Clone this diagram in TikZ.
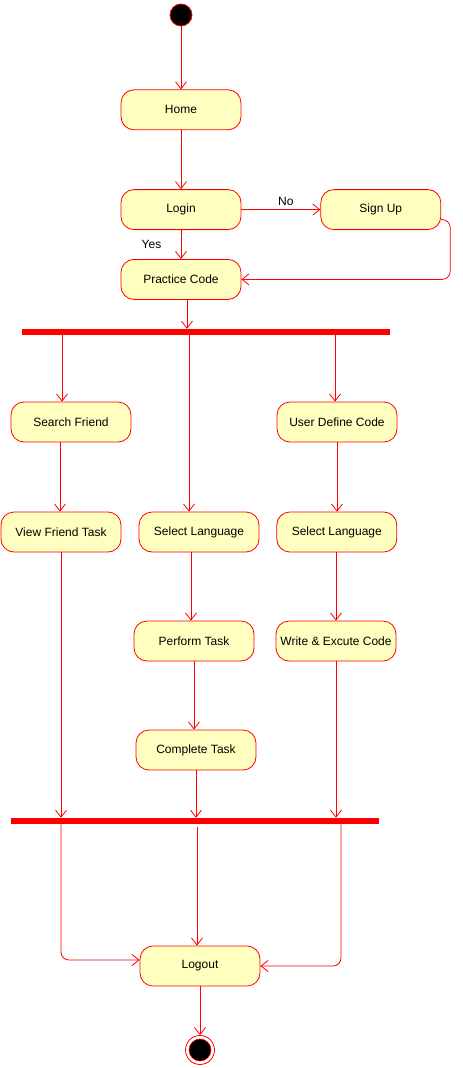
\documentclass[tikz,border=0pt]{standalone}
\usepackage{fontspec}
\setmainfont{Liberation Sans}
\usepackage{tikz}
\usetikzlibrary{shapes,arrows.meta,positioning}
\definecolor{actfill}{RGB}{255,255,192}
\tikzset{>={Straight Barb[length=7pt,width=11pt]}}
\tikzstyle{activity} = [draw=red, fill=actfill, rounded corners=13pt,
    minimum width=120pt, minimum height=40pt, line width=0.8pt]
\tikzstyle{bar} = [fill=red, inner sep=0pt, minimum height=6pt]
\tikzstyle{startdot} = [circle, draw=red, fill=black, inner sep=0pt,
    minimum size=22pt, line width=0.8pt]
\tikzstyle{enddot} = [circle, draw=red, fill=white, inner sep=0pt,
    minimum size=29pt, line width=0.8pt]
\tikzstyle{enddotin} = [circle, draw=red, fill=black, inner sep=0pt,
    minimum size=22pt, line width=0.6pt]
\tikzstyle{flow} = [->, draw=red, line width=0.8pt]

\begin{document}
\begin{tikzpicture}[x=1pt,y=-1pt,font=\fontsize{12}{14}\selectfont]
    \useasboundingbox (0,0) rectangle (463,1068);
    \node [startdot] (init) at (181,15) {};
    \node [activity,below=63pt of init] (home) {Home};
    \node [activity,below=59pt of home] (login) {Login};
    \node [activity,right=79pt of login] (signup) {Sign Up};
    \node [activity,below=29pt of login] (practice) {Practice Code};
    \node [bar,minimum width=368pt] (fork) at (205.5,332) {};
    \node [activity] (search) at (71,422) {Search Friend};
    \node [activity] (userdef) at (337,422) {User Define Code};
    \node [activity] (viewtask) at (61,532) {View Friend Task};
    \node [activity] (lang) at (199,532) {Select Language};
    \node [activity,right=17pt of lang] (langb) {Select Language};
    \node [activity] (perform) at (194,641) {Perform Task};
    \node [activity] (writecode) at (336,641) {Write \& Excute Code};
    \node [activity] (complete) at (196,750) {Complete Task};
    \node [bar,minimum width=368pt] (join) at (194.5,821) {};
    \node [activity] (logout) at (200,966) {Logout};
    \node [enddot] (final) at (200,1050) {};
    \node [enddotin] (finalin) at (final) {};
    % top part
    \draw [flow] (init) -- (home);
    \draw [flow] (home) -- (login);
    \draw [flow] (login) -- node [above,xshift=5pt] {No} (signup);
    \draw [flow] (login) -- node [left=16pt] {Yes} (practice);
    \draw [flow,rounded corners=8pt] ([yshift=-10pt]signup.east) -- ++(9,0) |- (practice.east);
    \draw [flow] ([xshift=6pt]practice.south) -- ([xshift=6pt]practice.south |- fork.north);
    % fork
    \draw [flow] ([xshift=-9pt]search.north |- fork.south) -- ([xshift=-9pt]search.north);
    \draw [flow] ([xshift=-10pt]lang.north |- fork.south) -- ([xshift=-10pt]lang.north);
    \draw [flow] ([xshift=-2pt]userdef.north |- fork.south) -- ([xshift=-2pt]userdef.north);
    % branches
    \draw [flow] ([xshift=-11pt]search.south) -- ([xshift=-11pt]search.south |- viewtask.north);
    \draw [flow] (viewtask) -- (viewtask |- join.north);
    \draw [flow] ([xshift=-8pt]lang.south) -- ([xshift=-8pt]lang.south |- perform.north);
    \draw [flow] (perform) -- (perform |- complete.north);
    \draw [flow] (complete) -- (complete |- join.north);
    \draw [flow] (userdef) -- (userdef |- langb.north);
    \draw [flow] (writecode |- langb.south) -- (writecode);
    \draw [flow] (writecode) -- (writecode |- join.north);
    % join
    \draw [flow,rounded corners=8pt] (viewtask |- join.south) |- ([yshift=6pt]logout.west);
    \draw [flow] ([xshift=-3pt,yshift=-3pt]logout.north |- join.south) -- ([xshift=-3pt]logout.north);
    \draw [flow,rounded corners=8pt] ([xshift=5pt]writecode.south |- join.south) |- (logout.east);
    \draw [flow] (logout) -- (final);
\end{tikzpicture}
\end{document}
